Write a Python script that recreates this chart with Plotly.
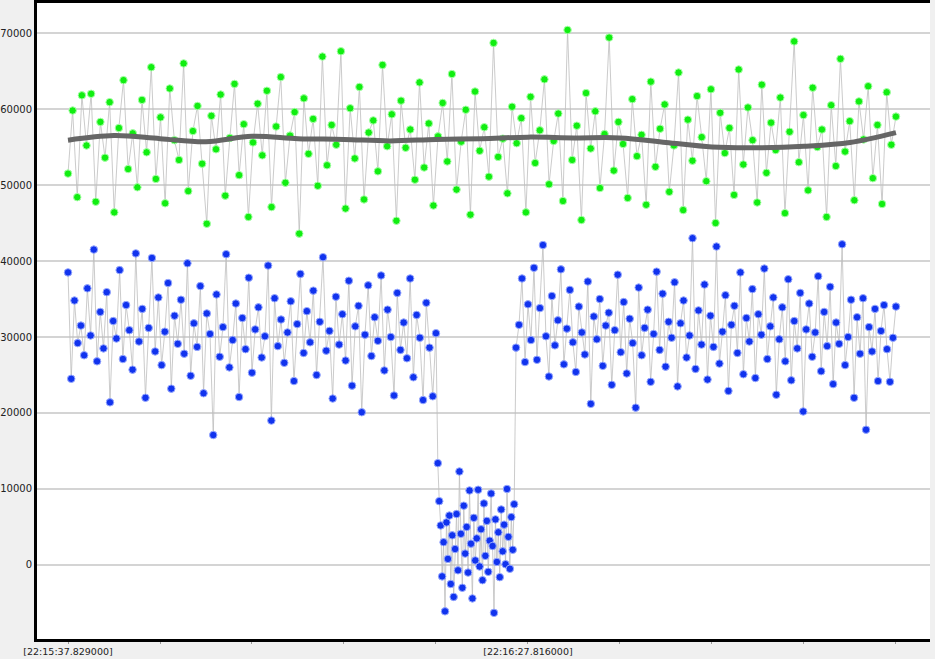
import numpy as np
import plotly.graph_objects as go

tick_labels = ["[22:15:37.829000]", "[22:16:27.816000]"]
tick_secs = [0, 50]

green = [51500,59800,48400,61800,55200,62000,47800,58300,53600,60900,46400,57500,63800,52100,56800,49700,61200,54300,65500,50800,58900,47600,62700,55900,53300,66000,49200,57100,60400,52800,44900,59100,54700,61900,48600,56200,63300,51300,58000,45800,55600,60700,53900,62400,47100,57700,64200,50300,56500,59600,43600,61400,54100,58700,49900,66900,52600,57900,55300,67600,46900,60100,53500,62900,48100,56900,58500,51800,65800,55100,59300,45300,61100,54900,57300,50700,63500,52300,58100,47300,56400,60800,53100,64600,49400,55700,59900,46100,62300,54500,57600,51100,68700,53700,56100,48900,60300,55500,58800,46400,61600,52900,57200,63900,50100,55800,59400,47900,70400,53300,57800,45400,62100,54800,59700,49600,56700,69400,51900,58300,55400,48300,61300,53800,56600,47400,63600,52400,57400,60600,49100,55200,64800,46700,58600,53200,61700,56300,50500,62600,45000,59500,54200,57500,48700,65200,52700,60200,55900,47700,63200,51600,58200,54600,61500,46300,57000,68900,53000,59200,49300,62800,55000,57300,45800,60500,52500,66600,54400,58400,48000,61000,56000,63000,50900,57900,47500,62200,55300,59000]

blue1 = [38500,24500,34800,29200,31500,27600,36400,30200,41500,26800,33300,28500,35900,21400,32100,29800,38800,27100,34200,30900,25700,41000,29400,33700,22000,31200,40400,28100,35200,26300,30700,37100,23200,32800,29100,34900,27800,39700,24900,31800,28700,36700,22600,33100,30400,17100,35600,27400,31300,40900,26000,29600,34400,22100,32500,28400,37800,25300,31000,33900,27300,30100,39400,19000,35100,28800,32300,26600,30600,34700,24200,31700,38300,27900,33400,29300,36100,25000,32000,40500,28200,30800,21900,35300,29000,33000,26900,37400,23600,31400,34100,20100,30300,36800,27500,32600,29500,38100,25600,33600,30000,22300,35800,28300,31900,27200,37700,24700,32900,29900,21700,34500,28600,22200,30500]
blue_low = [13400,8400,5200,-1500,3000,-6100,5600,800,6500,-2500,3900,-4200,2100,6700,-700,12300,4100,-3000,7800,1500,5000,-1000,9800,2800,-4400,6200,600,3500,9900,-200,4700,-2000,8100,1200,5800,-900,3200,9400,2500,-6300,6000,400,4300,-1600,7300,1800,5300,100,10000,3700,-500,6300,2000,8000]
blue2 = [28600,31600,37700,26700,34300,29600,39100,27000,33800,42100,30100,24800,35400,28900,32200,38900,26400,31100,36200,29300,25400,34000,30600,27700,37300,21200,32700,29700,35000,26200,31500,33200,23700,30900,38200,28000,34600,25200,32400,29200,20700,36500,27600,31200,33600,24100,30400,38600,28300,35700,26100,32000,29900,37200,23500,31800,34800,27300,30200,43000,25800,33500,29000,36900,24400,32800,28700,41900,26500,30700,35500,22900,31600,34100,27900,38500,25100,32500,29400,36300,24600,33000,30300,39000,27100,31400,35200,22400,29700,33900,26800,37600,24300,32100,28500,35800,20200,31000,34400,27400,30600,38000,25500,33300,28800,36600,23800,31900,29100,42200,26300,30000,34900,22000,32600,27800,35100,17800,31300,28100,33700,24200,30800,34200,28400,24100,29900,34000]

trend_t = [0,5,10,15,20,25,30,35,40,45,50,55,60,65,70,75,80,85,90]
trend_v = [55900,56500,56100,55700,56400,56100,56000,55800,56000,56100,56300,56200,56200,55600,55000,54900,55100,55600,56900]

t_green = np.linspace(0, 90, len(green))
t_b1 = np.linspace(0, 40, len(blue1))
t_bl = np.linspace(40.2, 48.5, len(blue_low))
t_b2 = np.linspace(48.7, 90, len(blue2))
t_blue = np.concatenate([t_b1, t_bl, t_b2])
blue = blue1 + blue_low + blue2

fig = go.Figure()
line_style = dict(color="rgba(190,190,190,0.8)", width=1)
fig.add_trace(go.Scatter(x=t_green, y=green, mode="lines+markers", line=line_style,
    marker=dict(color="#11ee11", size=7.5, line=dict(color="#aaffaa", width=1))))
fig.add_trace(go.Scatter(x=t_blue, y=blue, mode="lines+markers", line=line_style,
    marker=dict(color="#1133ee", size=7.5, line=dict(color="#99aaff", width=1))))
fig.add_trace(go.Scatter(x=trend_t, y=trend_v, mode="lines", line=dict(color="#666666", width=5, shape="spline")))

for v, c in [(0, "#888888"), (30000, "#aaaaaa"), (60000, "#aaaaaa")]:
    fig.add_hline(y=v, line=dict(color=c, width=2), layer="below")

fig.update_layout(
    width=935, height=659, showlegend=False,
    margin=dict(l=37, r=5, t=3, b=20, autoexpand=False),
    paper_bgcolor="#f0f0f0", plot_bgcolor="white",
    font=dict(family="DejaVu Sans", size=10, color="#222"),
)
fig.update_xaxes(range=[-3.37, 93.7], tickvals=tick_secs, ticktext=tick_labels,
    showgrid=False, zeroline=False, showline=True, linecolor="black", linewidth=3,
    mirror=True, ticks="outside", ticklen=2, tickcolor="#999", automargin=False,
    tickfont=dict(size=9.5),
    minor=dict(dtick=10, ticks="outside", ticklen=2, tickcolor="#999"))
fig.update_yaxes(range=[-9740, 73950], dtick=10000, tickformat="d", gridcolor="#d4d4d4", gridwidth=2,
    zeroline=False, showline=True, linecolor="black", linewidth=3, ticks="", automargin=False)
fig.write_html("out.html", config={"displayModeBar": False},
    post_script="document.body.style.margin='0';document.body.style.overflow='hidden';")
